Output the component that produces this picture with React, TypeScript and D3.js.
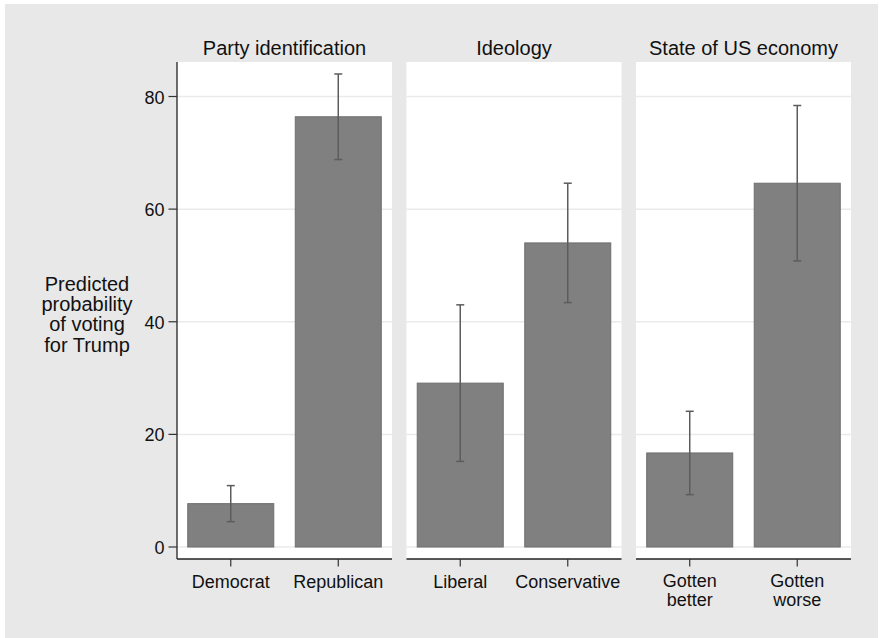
import React from "react";
import * as d3 from "d3";

// Panel titles and the categories shown in each panel
const panelTitles = ["Party identification", "Ideology", "State of US economy"];
const categoryLabels = ["Democrat", "Republican", "Liberal", "Conservative", "Gotten better", "Gotten worse"];
const categoryPanel = [0, 0, 1, 1, 2, 2];
const categorySlot = [0, 1, 0, 1, 0, 1];

// Predicted probabilities (%) with 95% confidence bounds
const predicted = [7.7, 76.4, 29.1, 54.0, 16.7, 64.6];
const lowerBound = [4.5, 68.8, 15.2, 43.4, 9.3, 50.8];
const upperBound = [10.9, 84.0, 43.0, 64.6, 24.1, 78.4];

const yTicks = [0, 20, 40, 60, 80];
const yTitleLines = ["Predicted", "probability", "of voting", "for Trump"];

const W = 879;
const H = 638;
const FONT = "'Liberation Sans', Arial, Helvetica, sans-serif";

export default function App() {
  const plotTop = 62;
  const plotBottom = 559;

  const y = d3.scaleLinear().domain([0, 80]).range([547, 96.5]);

  const panelX = d3
    .scaleBand<string>()
    .domain(panelTitles)
    .range([177, 851])
    .paddingInner(0.063)
    .paddingOuter(0);
  const pw = panelX.bandwidth();

  const slotX = d3
    .scaleBand<number>()
    .domain([0, 1])
    .range([0, pw])
    .paddingInner(0.2)
    .paddingOuter(0.1);

  const capHalf = 4;

  return (
    <div style={{ position: "absolute", left: 0, top: 0 }}>
      <svg width={W} height={H} style={{ display: "block", fontFamily: FONT }}>
        <rect x={0} y={0} width={W} height={H} fill="#ffffff" />
        <rect x={5} y={4} width={W - 6} height={H - 4} fill="#e8e8e8" />

        {panelTitles.map((title, pi) => {
          const x0 = panelX(title)!;
          return (
            <g key={title}>
              <rect x={x0} y={plotTop} width={pw} height={plotBottom - plotTop} fill="#ffffff" />
              {yTicks.map((t) => (
                <line
                  key={t}
                  x1={x0}
                  x2={x0 + pw}
                  y1={y(t)}
                  y2={y(t)}
                  stroke="#eaeaea"
                  strokeWidth={1.5}
                />
              ))}
              <text
                x={x0 + pw / 2}
                y={55}
                textAnchor="middle"
                fontSize={20}
                fill="#111"
              >
                {title}
              </text>
              <line x1={x0} x2={x0 + pw} y1={plotBottom} y2={plotBottom} stroke="#222" strokeWidth={1.3} />
              {pi === 0 && (
                <line x1={x0} x2={x0} y1={plotTop} y2={plotBottom} stroke="#222" strokeWidth={1.3} />
              )}
            </g>
          );
        })}

        {/* y axis ticks and labels */}
        {yTicks.map((t) => (
          <g key={t}>
            <line x1={168.5} x2={177} y1={y(t)} y2={y(t)} stroke="#333" strokeWidth={1.2} />
            <text
              x={164.5}
              y={y(t) + 1}
              textAnchor="end"
              dominantBaseline="central"
              fontSize={18}
              fill="#111"
            >
              {t}
            </text>
          </g>
        ))}

        {/* y axis title */}
        <text textAnchor="middle" fontSize={20} fill="#111">
          {yTitleLines.map((line, i) => (
            <tspan key={line} x={87} y={291 + i * 20.2}>
              {line}
            </tspan>
          ))}
        </text>

        {/* bars, confidence intervals and category labels */}
        {categoryLabels.map((label, i) => {
          const x0 = panelX(panelTitles[categoryPanel[i]])! + slotX(categorySlot[i])!;
          const bw = slotX.bandwidth();
          const cx = x0 + bw / 2;
          const words = label.split(" ");
          const wrapped = words.length > 1 && categoryPanel[i] === 2;
          return (
            <g key={label}>
              <rect
                x={x0}
                y={y(predicted[i])}
                width={bw}
                height={y(0) - y(predicted[i])}
                fill="#808080"
                stroke="#6e6e6e"
                strokeWidth={1}
              />
              <line x1={cx} x2={cx} y1={y(lowerBound[i])} y2={y(upperBound[i])} stroke="#5c5c5c" strokeWidth={1.5} />
              <line x1={cx - capHalf} x2={cx + capHalf} y1={y(upperBound[i])} y2={y(upperBound[i])} stroke="#5c5c5c" strokeWidth={1.5} />
              <line x1={cx - capHalf} x2={cx + capHalf} y1={y(lowerBound[i])} y2={y(lowerBound[i])} stroke="#5c5c5c" strokeWidth={1.5} />
              <line x1={cx} x2={cx} y1={plotBottom} y2={566.5} stroke="#333" strokeWidth={1.2} />
              {wrapped ? (
                words.map((w, k) => (
                  <text key={w} x={cx} y={587 + k * 19} textAnchor="middle" fontSize={18} fill="#111">
                    {w}
                  </text>
                ))
              ) : (
                <text x={cx} y={588} textAnchor="middle" fontSize={18} fill="#111">
                  {label}
                </text>
              )}
            </g>
          );
        })}
      </svg>
    </div>
  );
}
